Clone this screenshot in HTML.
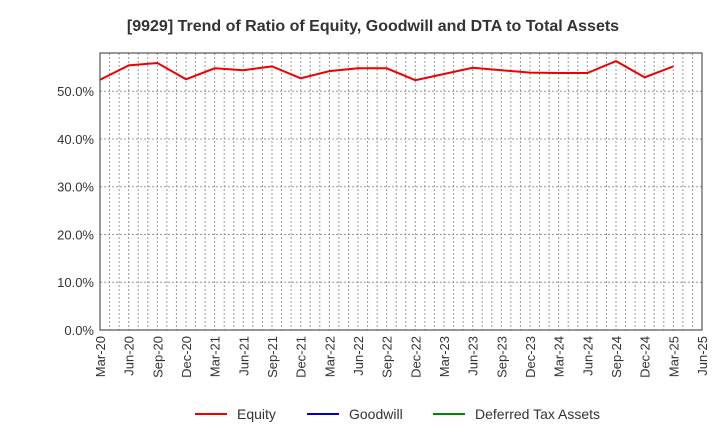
<!DOCTYPE html>
<html><head><meta charset="utf-8"><style>
body{margin:0;background:#fff;font-family:"Liberation Sans",sans-serif}
</style></head><body>
<svg width="720" height="440" viewBox="0 0 720 440" font-family="Liberation Sans, sans-serif">
<text x="373" y="31" text-anchor="middle" font-size="16" font-weight="bold" fill="#333">[9929]  Trend of Ratio of Equity, Goodwill and DTA to Total Assets</text>
<g id="grid"></g>
<g id="axes"></g>
<g id="series"></g>
<g>
<line x1="195" y1="414" x2="227" y2="414" stroke="#e00" stroke-width="2"/><text x="237" y="419" font-size="14" fill="#333">Equity</text>
<line x1="307" y1="414" x2="339" y2="414" stroke="#00c" stroke-width="2"/><text x="349" y="419" font-size="14" fill="#333">Goodwill</text>
<line x1="433" y1="414" x2="465" y2="414" stroke="#080" stroke-width="2"/><text x="475" y="419" font-size="14" fill="#333">Deferred Tax Assets</text>
</g>
</svg>
<script>
const categories=["Mar-20","Jun-20","Sep-20","Dec-20","Mar-21","Jun-21","Sep-21","Dec-21","Mar-22","Jun-22","Sep-22","Dec-22","Mar-23","Jun-23","Sep-23","Dec-23","Mar-24","Jun-24","Sep-24","Dec-24","Mar-25","Jun-25"];
const equity=[52.4,55.4,55.9,52.5,54.8,54.4,55.2,52.7,54.2,54.8,54.8,52.3,53.6,54.9,54.4,53.9,53.8,53.8,56.3,52.9,55.2];
const yTicks=[0,10,20,30,40,50];
const L=100,R=702,T=53,B=330,YMAX=58;
const ns="http://www.w3.org/2000/svg";
const x=i=>L+i*(R-L)/(categories.length-1);
const y=v=>B-v/YMAX*(B-T);
function mk(tag,attrs,parent){const e=document.createElementNS(ns,tag);for(const k in attrs)e.setAttribute(k,attrs[k]);document.getElementById(parent).appendChild(e);return e;}
for(let m=1;m<(categories.length-1)*3;m++){
 const xx=L+m*(R-L)/((categories.length-1)*3);
 const g=mk('line',{x1:xx,x2:xx,y1:T,y2:B,stroke:'#999','stroke-dasharray':'2,2','stroke-width':1},'grid');
 
 
}
yTicks.forEach(v=>{
 if(v>0){const g=mk('line',{x1:L,x2:R,y1:y(v),y2:y(v),stroke:'#999','stroke-dasharray':'2,2'},'grid');
 
 }
 const t=mk('text',{x:L-6,y:y(v)+5,'text-anchor':'end','font-size':13,fill:'#333'},'axes');
 t.textContent=v.toFixed(1)+'%';
 
 
});
const fr=mk('rect',{x:L,y:T,width:R-L,height:B-T,fill:'none',stroke:'#333'},'axes');


categories.forEach((c,i)=>{
 const t=mk('text',{x:x(i)+5,y:B+6,'text-anchor':'end','font-size':13,fill:'#333',transform:`rotate(-90 ${x(i)+5} ${B+6})`},'axes');
 t.textContent=c;
 
 
});
const p=mk('polyline',{points:equity.map((v,i)=>x(i)+','+y(v)).join(' '),fill:'none',stroke:'#e00','stroke-width':2},'series');


</script>
</body></html>
